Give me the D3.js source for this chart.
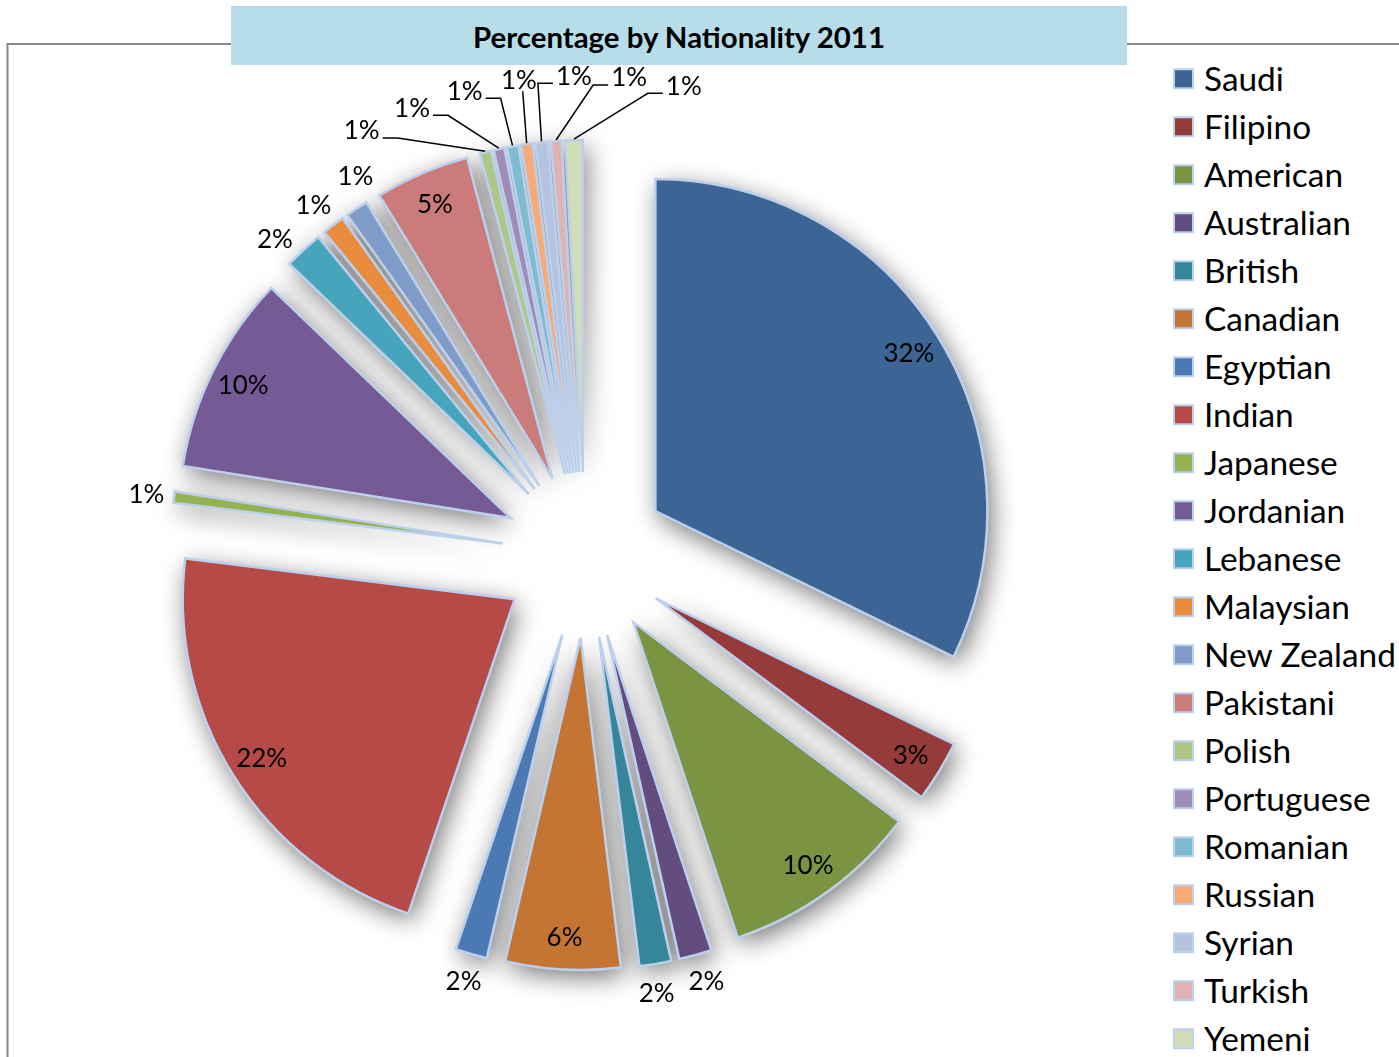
<!DOCTYPE html>
<html><head><meta charset="utf-8">
<script src="https://cdn.jsdelivr.net/npm/d3@7"></script>
<style>html,body{margin:0;padding:0;background:#fff;overflow:hidden}</style>
</head><body>
<svg id="chart" width="1399" height="1057"></svg>
<script>
// ---------- data ----------
const title = "Percentage by Nationality 2011";
const categories = ["Saudi","Filipino","American","Australian","British","Canadian","Egyptian","Indian","Japanese","Jordanian","Lebanese","Malaysian","New Zealand","Pakistani","Polish","Portuguese","Romanian","Russian","Syrian","Turkish","Yemeni"];
const values = [32.3,3.0,9.7,1.6,1.55,5.6,1.55,21.8,0.55,9.7,1.9,1.1,1.1,4.6,0.55,0.52,0.55,0.55,0.6,0.52,0.85];
const colors = ["#3c6595","#953b39","#7a9442","#634c80","#35869b","#c47533","#4a79b4","#b54a47","#93b351","#755a96","#46a5bd","#e98c3e","#7f9bc8","#cb7b79","#adc786","#9e8bb7","#7cbbd0","#f7aa76","#b4c4e0","#dfb3b2","#cfddb8"];

// ---------- layout ----------
const W = 1399, H = 1057;
const CX = 585, CY = 555, R = 332, EXP = 83;
const FONT = "Lato, 'Open Sans', sans-serif";
const OUTLINE = "#bcd0ec";

const svg = d3.select("#chart");

function fit(txt, weight, target){
  const t = svg.append("text").attr("font-family", FONT).attr("font-weight", weight).attr("font-size", 100).text(txt);
  const w = t.node().getComputedTextLength(); t.remove();
  return 100 * target / w;
}
const titleSize = fit(title, "bold", 412);
const legendSize = fit("New Zealand", "normal", 192);
const labelSize = fit("32%", "normal", 51);

const defs = svg.append("defs");
const f = defs.append("filter").attr("id","shadow").attr("x","-30%").attr("y","-30%").attr("width","160%").attr("height","160%");
f.append("feGaussianBlur").attr("in","SourceGraphic").attr("stdDeviation",13);

// chart border
svg.append("rect").attr("x",7.5).attr("y",44).attr("width",1500).attr("height",1100)
  .attr("fill","none").attr("stroke","#878787").attr("stroke-width",2);

const data = categories.map((c,i)=>({name:c, value:values[i], color:colors[i]}));
const total = d3.sum(values);
const arcs = d3.pie().sort(null).value(d=>d.value)(data);
const arc = d3.arc().innerRadius(0).outerRadius(R);
arcs.forEach(a=>{
  a.mid = (a.startAngle + a.endAngle)/2;
  a.ox = EXP*Math.sin(a.mid); a.oy = -EXP*Math.cos(a.mid);
  a.pct = a.value/total*100;
  a.label = Math.round(a.pct) + "%";
});

const g = svg.append("g").attr("transform",`translate(${CX},${CY})`);

// shadow
g.append("g").attr("filter","url(#shadow)").attr("opacity",0.55)
  .selectAll("path").data(arcs).join("path")
  .attr("transform", a=>`translate(${a.ox+4},${a.oy+7})`)
  .attr("d", arc).attr("fill","#000");

// slices
g.append("g").selectAll("path").data(arcs).join("path")
  .attr("transform", a=>`translate(${a.ox},${a.oy})`)
  .attr("d", arc).attr("fill", a=>a.data.color)
  .attr("stroke", OUTLINE).attr("stroke-width",2.5);

// inside labels
const inside = arcs.filter(a=>a.pct >= 2.5);
g.append("g").selectAll("text").data(inside).join("text")
  .attr("x", a=>a.ox + 0.9*R*Math.sin(a.mid))
  .attr("y", a=>a.oy - 0.9*R*Math.cos(a.mid))
  .attr("dy","0.36em").attr("text-anchor","middle")
  .attr("font-family",FONT).attr("font-size",labelSize).attr("fill","#000")
  .text(a=>a.label);

// outside labels with spreading
const outside = arcs.filter(a=>a.pct < 2.5).sort((a,b)=>a.mid-b.mid);
const SEP = 6.6*Math.PI/180, MERGE = 2*Math.PI/180;
let groups = outside.map(a=>({items:[a]}));
function lay(gr){
  const c = d3.mean(gr.items, a=>a.mid), n = gr.items.length;
  gr.items.forEach((a,i)=>a.la = c + (i-(n-1)/2)*SEP);
  gr.start = gr.items[0].la; gr.end = gr.items[n-1].la;
}
groups.forEach(lay);
let merged = true;
while(merged){
  merged = false;
  for(let i=0;i<groups.length-1;i++){
    const f1 = groups[i].items.length >= 4, f2 = groups[i+1].items.length >= 4;
    const thr = (f1 !== f2) ? MERGE : SEP;
    if(groups[i+1].start - groups[i].end < thr - 1e-9){
      groups[i].items = groups[i].items.concat(groups[i+1].items);
      groups.splice(i+1,1); lay(groups[i]); merged = true; break;
    }
  }
}
groups.forEach(gr=>gr.items.forEach(a=>{ a.far = gr.items.length >= 4; }));
outside.forEach(a=>{
  const rr = a.far ? 480 : 443;
  a.lx = rr*Math.sin(a.la); a.ly = -rr*Math.cos(a.la);
  a.px = a.ox + (R+1)*Math.sin(a.mid); a.py = a.oy - (R+1)*Math.cos(a.mid);
});
const lw = 18, lh = labelSize*0.45;
g.append("g").selectAll("polyline").data(outside.filter(a=>a.far)).join("polyline")
  .attr("fill","none").attr("stroke","#000").attr("stroke-width",1.5)
  .attr("points", a=>{
    const dx = a.px - a.lx;
    if (Math.abs(dx) < lw){
      return [[a.lx + dx*0.5, a.ly + lh], [a.px, a.py]].map(p=>p.join(",")).join(" ");
    }
    const s = dx > 0 ? 1 : -1;
    const sx = a.lx + s*(lw+3), sy = a.ly + 8;
    return [[sx,sy],[sx + s*15, sy],[a.px,a.py]].map(p=>p.join(",")).join(" ");
  });
g.append("g").selectAll("text").data(outside).join("text")
  .attr("x", a=>a.lx).attr("y", a=>a.ly)
  .attr("dy","0.36em").attr("text-anchor","middle")
  .attr("font-family",FONT).attr("font-size",labelSize).attr("fill","#000")
  .text(a=>a.label);

// title
svg.append("rect").attr("x",231).attr("y",6).attr("width",896).attr("height",59).attr("fill","#b7dde8");
svg.append("text").attr("x",679).attr("y",37).attr("dy","0.36em").attr("text-anchor","middle")
  .attr("font-family",FONT).attr("font-weight","bold").attr("font-size",titleSize).attr("fill","#000")
  .text(title);

// legend
const leg = svg.append("g").selectAll("g").data(data).join("g")
  .attr("transform",(d,i)=>`translate(1173,${78.8 + i*48})`);
leg.append("rect").attr("x",1).attr("y",-9.5).attr("width",19).attr("height",19)
  .attr("fill",d=>d.color).attr("stroke",OUTLINE).attr("stroke-width",2);
leg.append("text").attr("x",31).attr("y",0).attr("dy","0.36em")
  .attr("font-family",FONT).attr("font-size",legendSize).attr("fill","#000")
  .text(d=>d.name);
</script>
</body></html>
